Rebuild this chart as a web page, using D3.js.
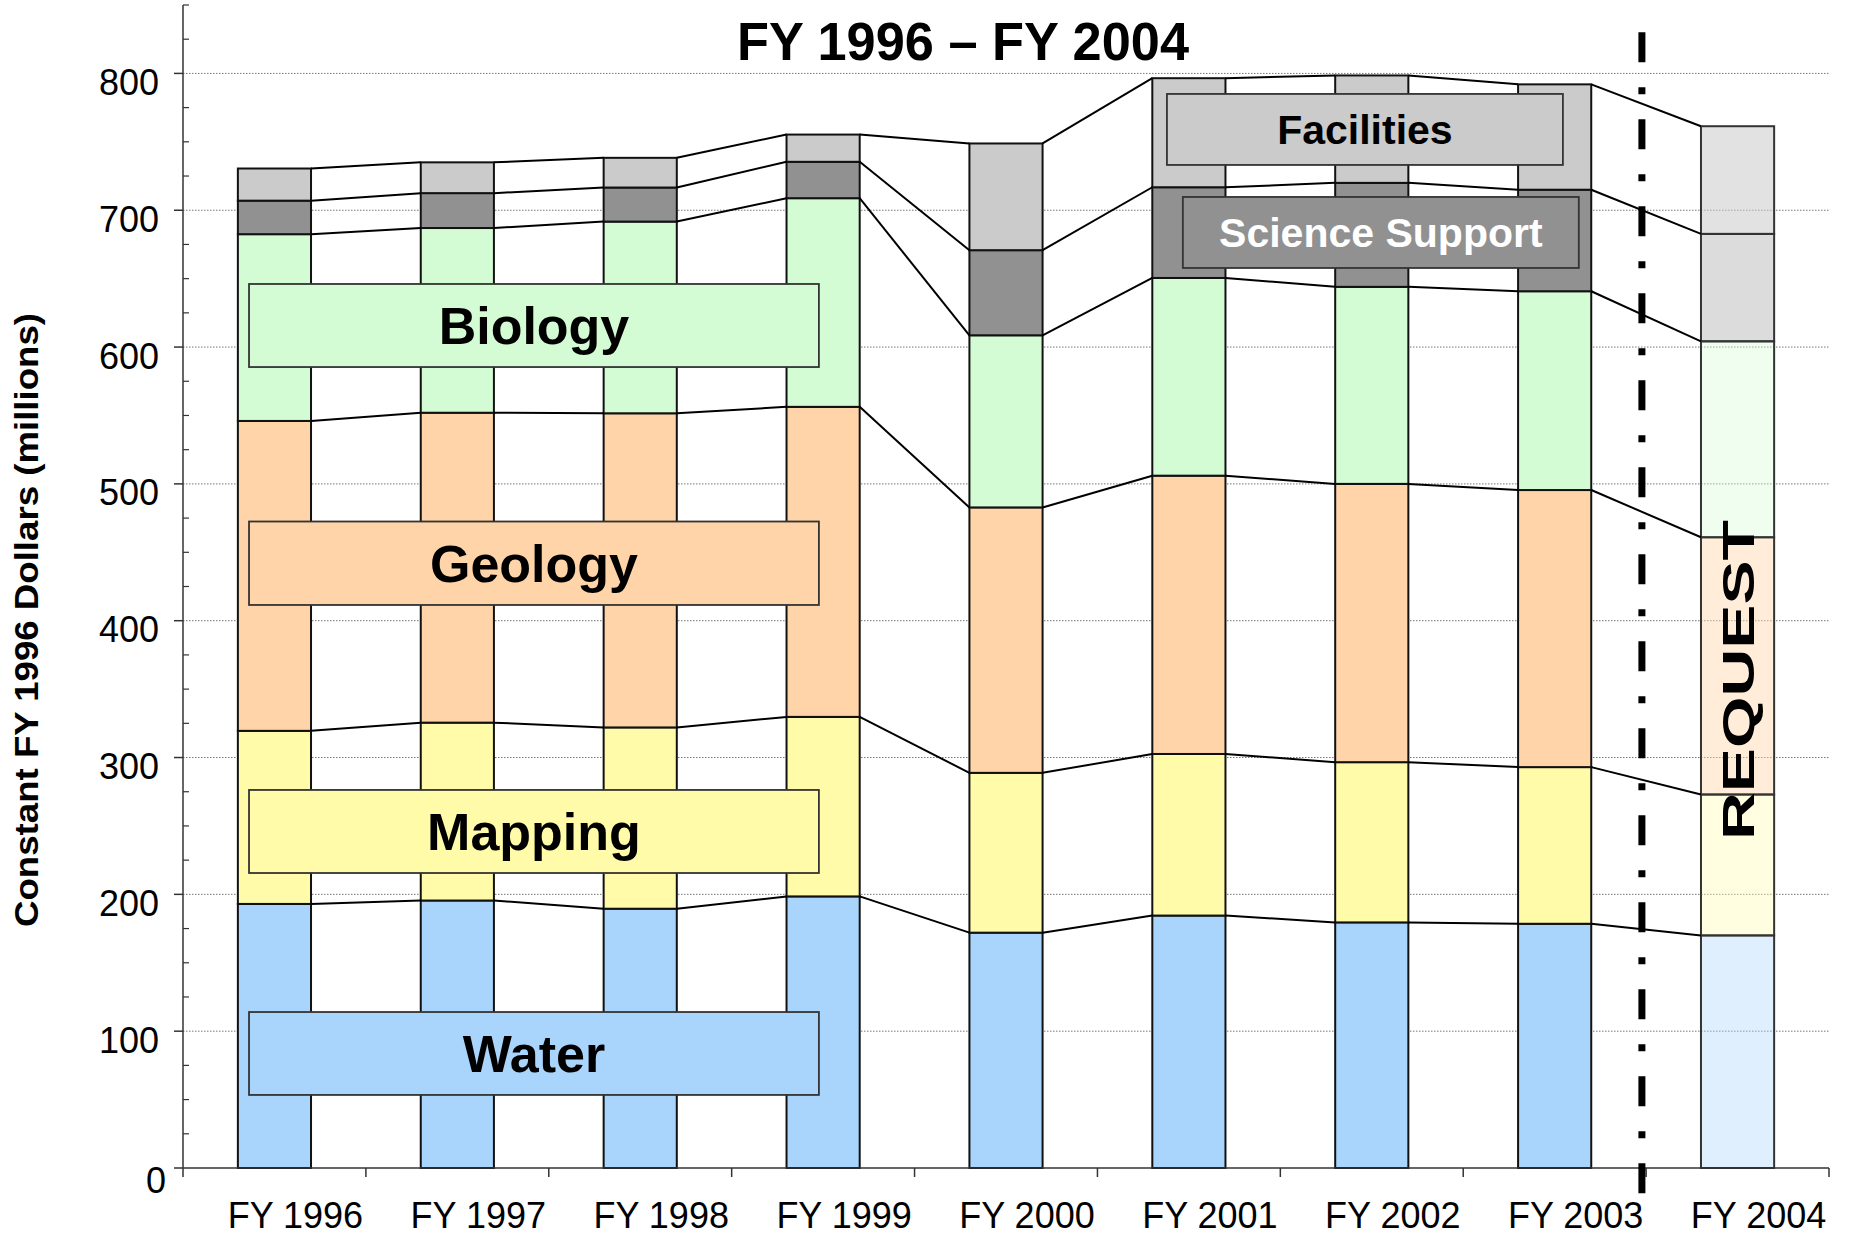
<!DOCTYPE html>
<html>
<head>
<meta charset="utf-8">
<script src="https://cdn.jsdelivr.net/npm/d3@7"></script>
<style>
  html, body { margin: 0; padding: 0; background: #fff; }
  svg { display: block; font-family: "Liberation Sans", Arial, Helvetica, sans-serif; }
</style>
</head>
<body>
<svg id="chart" width="1850" height="1235"></svg>
<script>
// ---------------- data ----------------
const categories = ["FY 1996", "FY 1997", "FY 1998", "FY 1999", "FY 2000", "FY 2001", "FY 2002", "FY 2003", "FY 2004"];
const seriesNames = ["Water", "Mapping", "Geology", "Biology", "Science Support", "Facilities"];
const water          = [193.0, 195.5, 189.5, 198.5, 172.0, 184.5, 179.5, 178.5, 170.0];
const mapping        = [126.5, 130.0, 132.5, 131.2, 116.8, 118.1, 117.1, 114.5, 103.0];
const geology        = [226.5, 226.5, 229.6, 226.6, 194.0, 203.4, 203.4, 202.5, 188.0];
const biology        = [136.5, 135.0, 140.1, 152.5, 125.8, 144.5, 144.0, 145.3, 143.2];
const scienceSupport = [ 24.5,  25.5,  24.9,  26.6,  62.2,  66.3,  76.0,  74.2,  78.5];
const facilities     = [ 23.5,  22.5,  21.7,  19.9,  78.0,  79.7,  78.5,  77.0,  78.7];
const yTicks = [0, 100, 200, 300, 400, 500, 600, 700, 800];
const requestCategory = "FY 2004";
const titleText = "FY 1996 \u2013 FY 2004";
const yAxisTitle = "Constant FY 1996 Dollars (millions)";
const requestText = "REQUEST";

(function () {
// ---------------- styles ----------------
const fills = {
  "Water": "#a9d4fb", "Mapping": "#fffba8", "Geology": "#fed4a8",
  "Biology": "#d4fcd4", "Science Support": "#919191", "Facilities": "#cbcbcb"
};
const requestFills = {
  "Water": "rgba(169,212,251,0.36)", "Mapping": "rgba(255,251,168,0.36)", "Geology": "rgba(254,212,168,0.42)",
  "Biology": "rgba(212,252,212,0.36)", "Science Support": "rgba(145,145,145,0.32)", "Facilities": "rgba(203,203,203,0.56)"
};

const table = categories.map((c, i) => ({
  cat: c,
  "Water": water[i], "Mapping": mapping[i], "Geology": geology[i],
  "Biology": biology[i], "Science Support": scienceSupport[i], "Facilities": facilities[i]
}));
const stacked = d3.stack().keys(seriesNames)(table);

// ---------------- scales ----------------
const svg = d3.select("#chart");
const pLeft = 183, pRight = 1829, pBottom = 1168, pTop = 5;
const x = d3.scaleBand().domain(categories).range([pLeft, pRight]).paddingInner(0.6).paddingOuter(0.3);
const xu = d3.scaleLinear().domain([0, categories.length]).range([pLeft, pRight]); // band units
const y = d3.scaleLinear().domain([0, 850]).range([pBottom, pTop]);
const bw = x.bandwidth();

// gridlines
svg.append("g").selectAll("line")
  .data(yTicks.filter(t => t > 0))
  .join("line")
  .attr("x1", pLeft).attr("x2", pRight)
  .attr("y1", d => y(d)).attr("y2", d => y(d))
  .attr("stroke", "#777").attr("stroke-width", 1).attr("stroke-dasharray", "1.5,1.5");

// bars
const gBars = svg.append("g");
stacked.forEach(s => {
  gBars.selectAll(null)
    .data(s)
    .join("rect")
    .attr("x", d => x(d.data.cat))
    .attr("width", bw)
    .attr("y", d => y(d[1]))
    .attr("height", d => y(d[0]) - y(d[1]))
    .attr("fill", d => d.data.cat === requestCategory ? requestFills[s.key] : fills[s.key])
    .attr("stroke", d => d.data.cat === requestCategory ? "#333" : "#111")
    .attr("stroke-width", 2);
});

// series lines
const gSeries = svg.append("g");
stacked.forEach(s => {
  const segs = d3.pairs(s);
  gSeries.selectAll(null)
    .data(segs)
    .join("line")
    .attr("x1", d => x(d[0].data.cat) + bw)
    .attr("y1", d => y(d[0][1]))
    .attr("x2", d => x(d[1].data.cat))
    .attr("y2", d => y(d[1][1]))
    .attr("stroke", "#000").attr("stroke-width", 2);
});

// axes
const gAxis = svg.append("g").attr("stroke", "#333");
gAxis.append("line").attr("x1", pLeft).attr("x2", pLeft).attr("y1", y(0)).attr("y2", y(850)).attr("stroke-width", 1.5);
gAxis.append("line").attr("x1", pLeft).attr("x2", pRight).attr("y1", y(0)).attr("y2", y(0)).attr("stroke-width", 1.5);
gAxis.selectAll(null).data(yTicks).join("line")
  .attr("x1", pLeft - 9).attr("x2", pLeft).attr("y1", d => y(d)).attr("y2", d => y(d)).attr("stroke-width", 1.5);
gAxis.selectAll(null).data(d3.range(25, 851, 25).filter(v => v % 100 !== 0)).join("line")
  .attr("x1", pLeft).attr("x2", pLeft + 6).attr("y1", d => y(d)).attr("y2", d => y(d)).attr("stroke-width", 1.2);
gAxis.selectAll(null).data(d3.range(0, categories.length + 1)).join("line")
  .attr("x1", d => xu(d)).attr("x2", d => xu(d)).attr("y1", y(0)).attr("y2", y(0) + 9).attr("stroke-width", 1.5);

// y tick labels
svg.append("g").selectAll("text").data(yTicks).join("text")
  .attr("x", d => d === 0 ? pLeft - 17 : pLeft - 24).attr("y", d => y(d) + (d === 0 ? 12 : 9))
  .attr("dy", "0.35em")
  .attr("text-anchor", "end")
  .attr("font-size", 36).attr("fill", "#000")
  .text(d => d);

// x tick labels
svg.append("g").selectAll("text").data(categories).join("text")
  .attr("x", d => x(d) + bw / 2 + 21).attr("y", 1228)
  .attr("text-anchor", "middle")
  .attr("font-size", 36).attr("fill", "#000")
  .text(d => d);

// annotation boxes (band units on x, data units on y)
const boxes = [
  { key: "Biology",         x0: 0.361, x1: 3.477, v0: 585.4, v1: 646.1, size: 52, color: "#000" },
  { key: "Geology",         x0: 0.361, x1: 3.477, v0: 411.5, v1: 472.5, size: 52, color: "#000" },
  { key: "Mapping",         x0: 0.361, x1: 3.477, v0: 215.6, v1: 276.3, size: 52, color: "#000" },
  { key: "Water",           x0: 0.361, x1: 3.477, v0: 53.4,  v1: 114.0, size: 52, color: "#000" },
  { key: "Facilities",      x0: 5.380, x1: 7.545, v0: 733.1, v1: 785.0, size: 41, color: "#000" },
  { key: "Science Support", x0: 5.467, x1: 7.632, v0: 657.8, v1: 709.7, size: 41, color: "#fff" }
];
const gBoxes = svg.append("g");
boxes.forEach(b => {
  gBoxes.append("rect")
    .attr("x", xu(b.x0)).attr("y", y(b.v1))
    .attr("width", xu(b.x1) - xu(b.x0)).attr("height", y(b.v0) - y(b.v1))
    .attr("fill", fills[b.key]).attr("stroke", "#333").attr("stroke-width", 1.8);
  gBoxes.append("text")
    .attr("x", (xu(b.x0) + xu(b.x1)) / 2)
    .attr("y", (y(b.v0) + y(b.v1)) / 2)
    .attr("dy", "0.36em")
    .attr("text-anchor", "middle")
    .attr("font-size", b.size).attr("font-weight", "bold").attr("fill", b.color)
    .text(b.key);
});

// dash-dot separator
svg.append("line")
  .attr("x1", xu(7.977)).attr("x2", xu(7.977))
  .attr("y1", y(830)).attr("y2", y(-18.5))
  .attr("stroke", "#000").attr("stroke-width", 7)
  .attr("stroke-dasharray", "30,25,7,25");

// REQUEST text
const rx = x(requestCategory) + bw / 2, ry = y(356.7);
svg.append("text")
  .attr("transform", `translate(${rx},${ry}) rotate(-90)`)
  .attr("text-anchor", "middle").attr("dy", "0.36em")
  .attr("font-size", 45).attr("font-weight", "bold").attr("fill", "#000")
  .attr("textLength", 320).attr("lengthAdjust", "spacingAndGlyphs")
  .text(requestText);

// title
svg.append("text")
  .attr("x", 963).attr("y", 60)
  .attr("text-anchor", "middle")
  .attr("font-size", 54).attr("font-weight", "bold").attr("fill", "#000")
  .attr("textLength", 452).attr("lengthAdjust", "spacingAndGlyphs")
  .text(titleText);

// y axis title
svg.append("text")
  .attr("transform", "translate(26,620) rotate(-90)")
  .attr("text-anchor", "middle").attr("dy", "0.36em")
  .attr("font-size", 33).attr("font-weight", "bold").attr("fill", "#000")
  .attr("textLength", 614).attr("lengthAdjust", "spacingAndGlyphs")
  .text(yAxisTitle);
})();
</script>
</body>
</html>
